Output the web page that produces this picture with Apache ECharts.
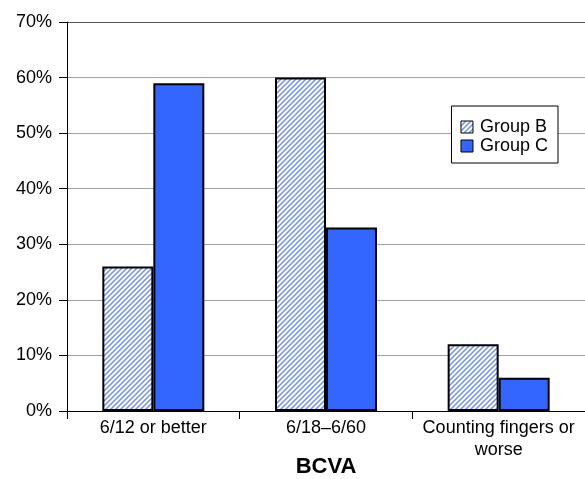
<!DOCTYPE html>
<html><head><meta charset="utf-8">
<script src="https://cdn.jsdelivr.net/npm/echarts@6/dist/echarts.min.js"></script>
<style>html,body{margin:0;padding:0;background:#fff}#c{width:585px;height:479px}</style>
</head><body><div id="c"></div>
<script>
const categories = ['6/12 or better', '6/18\u20136/60', 'Counting fingers or\nworse'];
const groupB = [26, 60, 12];
const groupC = [59, 33, 6];
const seriesNames = ['Group B', 'Group C'];

function hatch() {
  const s = 5;
  const cv = document.createElement('canvas');
  cv.width = s; cv.height = s;
  const ctx = cv.getContext('2d');
  ctx.fillStyle = '#ffffff';
  ctx.fillRect(0, 0, s, s);
  ctx.strokeStyle = '#6f8ffa';
  ctx.lineWidth = 1.5;
  ctx.beginPath();
  ctx.moveTo(-1, s + 1); ctx.lineTo(s + 1, -1);
  ctx.moveTo(-1, 1); ctx.lineTo(1, -1);
  ctx.moveTo(s - 1, s + 1); ctx.lineTo(s + 1, s - 1);
  ctx.stroke();
  return cv;
}
const pat = { image: hatch(), repeat: 'repeat' };
const font = 'Liberation Sans, Arial, sans-serif';

const chart = echarts.init(document.getElementById('c'), null, { renderer: 'canvas' });
chart.setOption({
  animation: false,
  textStyle: { fontFamily: font },
  grid: { left: 67, right: 0, top: 22, bottom: 68, containLabel: false, outerBoundsMode: 'none' },
  legend: {
    orient: 'vertical', right: 27, top: 106,
    data: seriesNames,
    icon: 'rect', itemWidth: 12, itemHeight: 12, itemGap: 1,
    itemStyle: { borderColor: '#000', borderWidth: 1 },
    borderColor: '#000', borderWidth: 1, backgroundColor: '#fff', borderRadius: 0,
    padding: [12, 10, 8, 9],
    textStyle: { fontSize: 18, color: '#000', fontFamily: font, padding: [0, 0, 0, 2] }
  },
  xAxis: {
    type: 'category', data: categories,
    name: 'BCVA', nameLocation: 'middle', nameGap: 45, nameMoveOverlap: false,
    nameTextStyle: { fontSize: 22, fontWeight: 'bold', color: '#000', fontFamily: font },
    axisLine: { lineStyle: { color: '#000', width: 1 } },
    axisTick: { show: true, length: 8, lineStyle: { color: '#000' } },
    axisLabel: { fontSize: 18, color: '#000', margin: 6, lineHeight: 22, interval: 0, fontFamily: font },
    z: 10
  },
  yAxis: {
    type: 'value', min: 0, max: 70, interval: 10,
    axisLine: { show: true, lineStyle: { color: '#000', width: 1 } },
    axisTick: { show: true, length: 8, lineStyle: { color: '#000' } },
    axisLabel: { fontSize: 18, color: '#000', margin: 15, formatter: '{value}%', fontFamily: font },
    splitLine: { show: true, lineStyle: { color: ['#000', '#a0a0a0', '#a0a0a0', '#a0a0a0', '#a0a0a0', '#a0a0a0', '#a0a0a0', '#555'], width: 1 } }
  },
  series: [
    { name: seriesNames[0], type: 'bar', data: groupB, barWidth: 51, barGap: '0%',
      itemStyle: { color: pat, borderColor: '#000', borderWidth: 2 } },
    { name: seriesNames[1], type: 'bar', data: groupC, barWidth: 51, barGap: '0%',
      itemStyle: { color: '#3366ff', borderColor: '#000', borderWidth: 2 } }
  ]
});
</script></body></html>
